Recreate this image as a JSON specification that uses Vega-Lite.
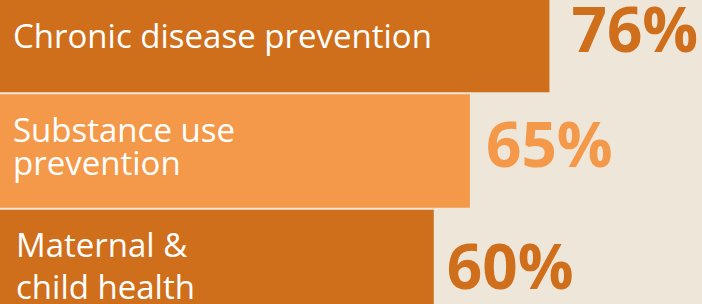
{
  "$schema": "https://vega.github.io/schema/vega-lite/v6.json",
  "width": 702,
  "height": 304,
  "autosize": {"type": "fit", "contains": "padding"},
  "padding": 0,
  "background": "#EFE6DA",
  "view": {"stroke": null},
  "data": {
    "values": [
      {"cat": "Chronic disease prevention", "label": "Chronic disease prevention", "value": 0.76},
      {"cat": "Substance use prevention", "label": "Substance use\nprevention", "value": 0.65},
      {"cat": "Maternal & child health", "label": "Maternal &\nchild health", "value": 0.60}
    ]
  },
  "encoding": {
    "y": {
      "field": "cat",
      "type": "nominal",
      "sort": null,
      "axis": null,
      "scale": {"range": [-21, 323], "paddingInner": 0.017, "paddingOuter": 0}
    },
    "x": {"field": "value", "type": "quantitative", "axis": null, "scale": {"domain": [0, 0.971], "nice": false}},
    "color": {
      "field": "cat",
      "type": "nominal",
      "legend": null,
      "scale": {
        "domain": ["Chronic disease prevention", "Substance use prevention", "Maternal & child health"],
        "range": ["#CF6E1B", "#F4994A", "#CF6E1B"]
      }
    }
  },
  "layer": [
    {
      "mark": {"type": "bar", "clip": true}
    },
    {
      "transform": [{"filter": "datum.value == 0.76"}],
      "mark": {"type": "text", "align": "left", "baseline": "alphabetic", "dx": 13, "dy": 12, "font": "Open Sans", "fontSize": 33, "color": "#FFFFFF", "lineBreak": "\n", "clip": true},
      "encoding": {"x": {"datum": 0, "type": "quantitative"}, "text": {"field": "label"}, "color": {"value": "#FFFFFF"}}
    },
    {
      "transform": [{"filter": "datum.value == 0.65"}],
      "mark": {"type": "text", "align": "left", "baseline": "alphabetic", "dx": 13, "dy": -9, "font": "Open Sans", "fontSize": 33, "color": "#FFFFFF", "lineBreak": "\n", "lineHeight": 33, "clip": true},
      "encoding": {"x": {"datum": 0, "type": "quantitative"}, "text": {"field": "label"}, "color": {"value": "#FFFFFF"}}
    },
    {
      "transform": [{"filter": "datum.value == 0.6"}],
      "mark": {"type": "text", "align": "left", "baseline": "alphabetic", "dx": 16, "dy": -9, "font": "Open Sans", "fontSize": 33, "color": "#FFFFFF", "lineBreak": "\n", "lineHeight": 42, "clip": true},
      "encoding": {"x": {"datum": 0, "type": "quantitative"}, "text": {"field": "label"}, "color": {"value": "#FFFFFF"}}
    },
    {
      "transform": [{"filter": "datum.value == 0.76"}],
      "mark": {"type": "text", "align": "left", "baseline": "alphabetic", "dx": 22, "dy": 16, "font": "Open Sans", "fontSize": 62, "fontWeight": "bold"},
      "encoding": {"text": {"field": "value", "type": "quantitative", "format": ".0%"}}
    },
    {
      "transform": [{"filter": "datum.value == 0.65"}],
      "mark": {"type": "text", "align": "left", "baseline": "alphabetic", "dx": 16, "dy": 16, "font": "Open Sans", "fontSize": 62, "fontWeight": "bold"},
      "encoding": {"text": {"field": "value", "type": "quantitative", "format": ".0%"}}
    },
    {
      "transform": [{"filter": "datum.value == 0.6"}],
      "mark": {"type": "text", "align": "left", "baseline": "alphabetic", "dx": 13, "dy": 23, "font": "Open Sans", "fontSize": 62, "fontWeight": "bold"},
      "encoding": {"text": {"field": "value", "type": "quantitative", "format": ".0%"}}
    }
  ]
}
